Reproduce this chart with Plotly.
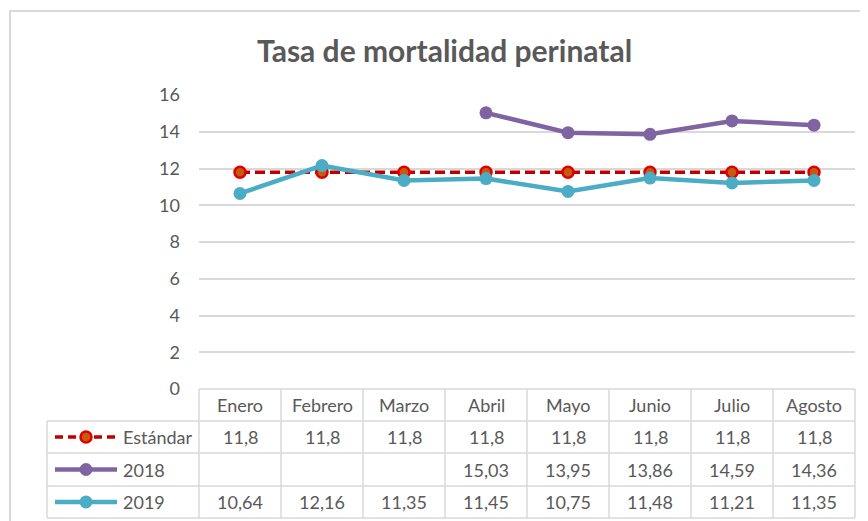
import plotly.graph_objects as go

months = ["Enero", "Febrero", "Marzo", "Abril", "Mayo", "Junio", "Julio", "Agosto"]
estandar = [11.8, 11.8, 11.8, 11.8, 11.8, 11.8, 11.8, 11.8]
y2018 = [None, None, None, 15.03, 13.95, 13.86, 14.59, 14.36]
y2019 = [10.64, 12.16, 11.35, 11.45, 10.75, 11.48, 11.21, 11.35]
series_names = ["Estándar", "2018", "2019"]
y_ticks = [0, 2, 4, 6, 8, 10, 12, 14, 16]

TXT = "#595959"
GRID = "#D9D9D9"
FONT = "Lato, 'Open Sans', sans-serif"
OFF = 8  # page body margin
W, H = 868 - OFF, 521 - OFF
L, R, T, B = 199 - OFF, 855 - OFF, 95 - OFF, 389 - OFF  # plot area in px (figure coords)

def px(xp):
    return (xp - OFF - L) / (R - L)

def py(yp):
    return (B - (yp - OFF)) / (B - T)

DASH = "10px,5px"
fig = go.Figure()
fig.add_trace(go.Scatter(x=months, y=estandar, name=series_names[0], mode="lines+markers",
                         line=dict(color="#C00000", width=3.5, dash=DASH),
                         marker=dict(size=11, color="#C55A11", line=dict(color="#E00000", width=2.5))))
fig.add_trace(go.Scatter(x=months, y=y2018, name=series_names[1], mode="lines+markers",
                         line=dict(color="#8064A2", width=4.5),
                         marker=dict(size=13, color="#8064A2")))
fig.add_trace(go.Scatter(x=months, y=y2019, name=series_names[2], mode="lines+markers",
                         line=dict(color="#4BACC6", width=4.5),
                         marker=dict(size=13, color="#4BACC6")))

shapes = []
annos = []
# outer chart border
shapes.append(dict(type="rect", xref="paper", yref="paper", x0=px(10), x1=px(900), y0=py(11), y1=py(560),
                   line=dict(color=GRID, width=2), layer="below"))

rows = [389, 421, 453, 486, 518]
n = len(months)
line_style = dict(color=GRID, width=1.5)
shapes.append(dict(type="line", xref="paper", yref="paper", x0=0, x1=1, y0=py(rows[0]), y1=py(rows[0]), line=line_style))
for r in rows[1:]:
    shapes.append(dict(type="line", xref="paper", yref="paper", x0=px(47), x1=1, y0=py(r), y1=py(r), line=line_style))
for i in range(n + 1):
    shapes.append(dict(type="line", xref="paper", yref="paper", x0=i / n, x1=i / n, y0=py(rows[0]), y1=py(rows[-1]), line=line_style))
shapes.append(dict(type="line", xref="paper", yref="paper", x0=px(47), x1=px(47), y0=py(rows[1]), y1=py(rows[-1]), line=line_style))

def fmt(v):
    return "" if v is None else f"{v:g}".replace(".", ",")

tfont = dict(family=FONT, size=18, color=TXT)
for i, m in enumerate(months):
    cx = (i + 0.5) / n
    annos.append(dict(x=cx, xref="paper", y=py((rows[0] + rows[1]) / 2), yref="paper", text=m,
                      showarrow=False, font=tfont, xanchor="center", yanchor="middle"))
    for k, vals in enumerate([estandar, y2018, y2019]):
        yc = (rows[k + 1] + rows[k + 2]) / 2
        t = fmt(vals[i])
        if t:
            annos.append(dict(x=cx, xref="paper", y=py(yc), yref="paper", text=t,
                              showarrow=False, font=tfont, xanchor="center", yanchor="middle"))

# legend keys in table
keys = [("#C00000", "dash", "#C55A11", 11, 3.5), ("#8064A2", "solid", "#8064A2", 13, 4.5), ("#4BACC6", "solid", "#4BACC6", 13, 4.5)]
for k, (col, dash, mcol, msize, lw) in enumerate(keys):
    yc = (rows[k + 1] + rows[k + 2]) / 2
    shapes.append(dict(type="line", xref="paper", yref="paper", x0=px(55), x1=px(117), y0=py(yc), y1=py(yc),
                       line=dict(color=col, width=lw, dash="8px,5px" if dash == "dash" else "solid")))
    shapes.append(dict(type="circle", xref="paper", yref="paper", xsizemode="pixel", ysizemode="pixel",
                       xanchor=px(86), yanchor=py(yc), x0=-msize / 2, x1=msize / 2, y0=-msize / 2, y1=msize / 2,
                       fillcolor=mcol, line=dict(color="#E00000" if k == 0 else mcol, width=2.5 if k == 0 else 0)))
    annos.append(dict(x=px(121), xref="paper", y=py(yc), yref="paper", text=series_names[k],
                      showarrow=False, font=tfont, xanchor="left", yanchor="middle"))

# title
annos.append(dict(x=px(444), xref="paper", y=py(50), yref="paper", text="<b>Tasa de mortalidad perinatal</b>",
                  showarrow=False, font=dict(family=FONT, size=30, color=TXT), xanchor="center", yanchor="middle"))

fig.update_layout(
    width=W, height=H,
    margin=dict(l=L, r=W - R, t=T, b=H - B, pad=0),
    paper_bgcolor="white", plot_bgcolor="white",
    showlegend=False,
    shapes=shapes, annotations=annos,
    xaxis=dict(type="category", range=[-0.5, n - 0.5], showticklabels=False, showgrid=False,
               zeroline=False, showline=False, ticks=""),
    yaxis=dict(range=[0, 16], tickvals=y_ticks, ticktext=[str(v) for v in y_ticks],
               showgrid=True, gridcolor=GRID, gridwidth=1.5, zeroline=False, showline=False,
               ticks="", ticklabelstandoff=18, tickfont=dict(family=FONT, size=18, color=TXT)),
)

fig.write_html("out.html")
